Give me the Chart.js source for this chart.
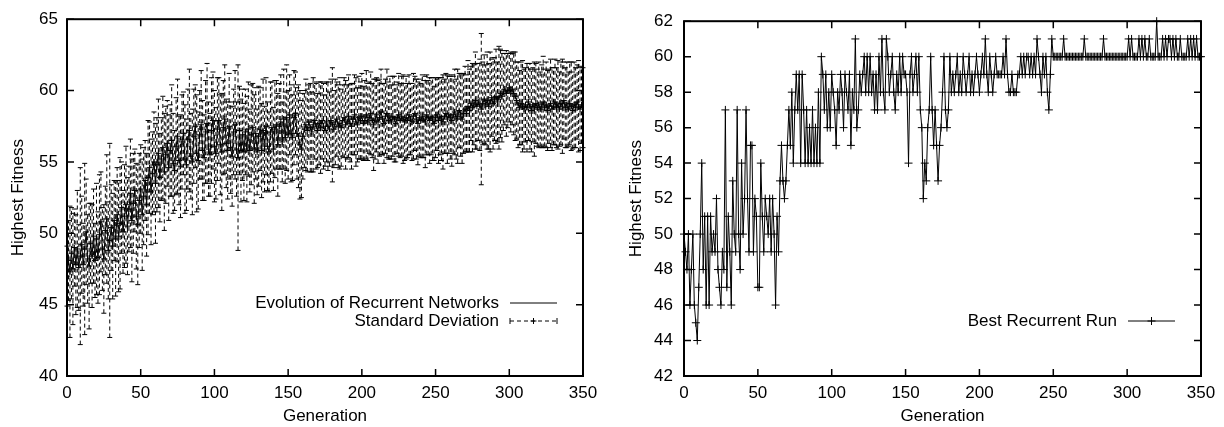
<!DOCTYPE html>
<html>
<head>
<meta charset="utf-8">
<script src="https://cdn.jsdelivr.net/npm/chart.js@4.4.0/dist/chart.umd.min.js"></script>
<style>
  html, body { margin: 0; padding: 0; background: #fff; }
  #wrap { display: flex; width: 1224px; height: 427px; }
  canvas { display: block; }
</style>
</head>
<body>
<div id="wrap">
  <canvas id="avgChart" width="612" height="427"></canvas>
  <canvas id="bestChart" width="612" height="427"></canvas>
</div>
<script>
const FONT = "'Liberation Sans', Arial, Helvetica, sans-serif";

// generation index 0..350 (x categories)
const generations = Array.from({ length: 351 }, (_, i) => i);

// left plot: average best fitness per generation over the recurrent runs
const meanFitness = [
  47.0,48.1,47.3,48.6,47.5,49.0,47.8,48.9,47.6,48.4,
  49.2,47.8,48.9,50.1,48.2,47.7,49.3,48.4,49.8,48.1,
  49.6,48.3,49.9,50.8,48.9,48.2,50.2,51.0,48.8,49.5,
  50.4,49.1,50.9,49.6,51.3,49.8,50.7,51.8,50.1,51.2,
  52.0,50.5,51.7,52.8,50.9,52.1,53.0,51.2,50.6,52.3,
  53.1,51.3,52.6,53.7,52.0,53.9,54.6,52.9,54.2,55.0,
  53.5,54.8,55.6,53.9,55.2,56.0,54.3,55.5,56.3,54.6,
  55.8,56.5,54.9,54.4,56.1,56.8,55.1,54.7,56.4,57.0,
  55.2,54.8,56.6,57.2,55.4,55.0,56.8,57.5,55.6,55.1,
  56.9,57.6,55.8,55.3,57.1,57.7,55.9,55.5,57.2,57.9,
  56.1,55.6,57.3,57.9,56.2,55.7,57.4,58.0,56.3,55.8,
  57.5,56.0,55.4,57.1,57.6,55.9,55.3,57.2,55.8,56.9,
  55.7,57.1,55.9,57.3,55.8,56.9,57.4,55.9,57.0,55.7,
  56.8,57.3,55.8,57.2,55.9,57.5,56.1,55.7,57.1,57.4,
  55.9,57.3,57.6,56.2,57.5,57.8,56.4,58.0,56.7,58.1,
  56.9,58.3,57.0,56.7,58.1,58.4,57.0,56.8,56.2,55.9,
  56.8,57.3,57.6,57.2,57.8,57.4,57.1,57.6,57.9,57.5,
  57.2,57.7,57.4,57.9,57.5,57.2,57.8,57.5,57.3,57.9,
  57.6,57.3,57.8,58.0,57.5,57.7,57.4,57.9,58.1,57.6,
  57.8,58.2,57.7,57.5,58.0,58.3,57.8,57.6,58.1,57.9,
  58.2,57.7,57.9,58.3,57.8,58.1,58.4,57.9,57.6,58.0,
  58.3,57.8,58.1,58.5,58.0,57.7,58.2,58.4,57.9,58.1,
  57.8,58.2,58.0,57.7,58.1,58.3,57.9,58.2,58.0,57.8,
  58.1,57.9,58.3,58.0,57.8,58.2,58.4,58.0,57.7,58.1,
  57.9,58.2,58.0,57.8,58.3,58.1,57.9,58.2,58.0,57.7,
  58.1,58.3,57.9,58.2,58.0,57.8,58.2,58.4,58.0,58.3,
  58.1,57.9,58.3,58.5,58.0,58.2,58.6,58.3,58.0,58.4,
  58.7,58.4,58.9,58.6,59.1,58.8,59.0,59.3,58.9,59.2,
  59.0,58.7,59.1,59.4,59.0,59.3,58.9,59.2,59.5,59.1,
  59.4,59.6,59.2,59.5,59.8,59.6,59.9,60.1,59.8,60.0,
  60.2,59.9,60.1,59.8,59.6,59.3,59.0,58.8,59.1,58.9,
  58.7,59.0,58.8,59.2,58.9,58.6,59.0,58.7,59.1,58.8,
  59.0,58.7,58.9,59.2,58.8,59.0,58.6,58.9,59.1,58.7,
  58.9,59.2,58.8,59.0,58.7,59.1,58.9,59.3,58.8,59.0,
  58.7,59.1,58.9,58.6,59.0,58.8,59.2,58.9,58.7,59.0,
  58.8
];

// standard deviation around the mean, same generations
const stdFitness = [
  2.1,2.8,4.6,3.2,3.9,2.7,3.5,4.1,3.0,6.2,
  3.4,2.9,6.0,3.7,3.1,4.4,2.8,3.6,3.3,2.6,
  3.9,3.2,4.2,3.5,2.9,3.8,3.1,4.5,3.4,6.8,
  3.0,3.7,2.8,4.0,3.3,3.9,4.6,3.2,2.9,3.6,
  4.1,3.4,3.0,3.8,4.3,3.5,2.9,3.7,4.2,3.3,
  3.1,3.9,3.4,2.8,3.6,4.0,3.2,3.7,2.9,3.5,
  4.2,3.3,3.8,3.1,2.9,3.6,4.1,3.4,3.0,3.7,
  3.2,3.9,3.5,2.8,3.4,4.0,3.1,3.6,3.3,2.9,
  3.8,3.2,3.5,4.3,3.0,3.7,3.3,2.9,4.1,3.4,
  3.1,3.8,3.5,3.0,3.6,4.2,3.3,2.9,3.7,3.4,
  3.9,3.2,3.6,3.0,3.5,4.1,3.3,3.8,3.1,3.4,
  3.7,3.2,3.5,3.0,3.8,3.3,6.5,3.1,3.6,3.2,
  3.4,3.0,3.7,3.3,2.9,3.5,3.1,3.8,3.2,3.0,
  3.5,2.9,3.3,3.6,3.0,3.4,3.1,2.8,3.5,3.2,
  2.9,3.4,3.1,3.6,3.0,3.3,2.8,3.5,3.2,3.7,
  3.1,2.8,3.4,3.0,3.3,2.9,3.2,3.6,3.8,3.4,
  3.0,2.7,3.2,2.9,2.6,3.1,2.8,3.3,2.7,3.0,
  2.6,2.9,3.2,2.7,3.0,2.5,2.8,3.1,2.6,2.9,
  4.0,2.7,3.0,2.6,2.9,3.2,2.7,2.5,2.8,3.1,
  2.6,2.9,2.7,3.0,2.5,2.8,3.1,2.6,2.9,2.7,
  3.0,2.6,2.8,3.1,2.7,2.5,2.9,2.6,3.2,2.8,
  2.6,2.9,2.7,3.0,2.5,2.8,2.6,3.1,2.7,2.9,
  2.6,2.8,3.0,2.7,2.5,2.9,2.6,2.8,3.1,2.7,
  2.9,2.6,2.8,2.5,2.7,3.0,2.6,2.8,2.9,2.7,
  2.6,2.9,2.7,3.2,2.8,2.6,3.0,2.7,2.9,2.6,
  2.8,2.5,3.0,2.7,2.9,3.3,2.6,2.8,3.1,2.7,
  2.9,3.2,2.7,3.0,2.8,3.3,2.6,2.9,3.1,2.8,
  3.0,2.7,3.2,2.9,2.6,3.1,2.8,3.4,3.0,2.7,
  3.2,5.3,2.9,3.1,2.8,3.4,3.0,3.5,2.7,3.2,
  2.9,3.3,2.8,3.6,3.1,3.2,2.7,2.5,3.0,2.6,
  2.4,2.8,2.5,2.9,3.1,2.7,3.0,2.6,2.9,3.2,
  2.8,2.6,3.1,2.7,3.0,2.9,2.6,3.3,2.8,2.7,
  3.0,2.6,2.9,3.2,2.7,3.0,2.8,2.6,3.1,2.9,
  2.7,3.0,2.8,3.1,2.6,2.9,3.3,2.7,2.8,3.0,
  2.6,2.9,3.1,2.7,3.0,2.8,2.6,3.2,2.9,2.7,
  2.8
];

// right plot: best single recurrent run
const bestRun = [
  50,49,48,50,46,48,50,46,45,44,
  47,50,54,48,51,46,51,46,51,49,
  50,49,52,48,47,46,49,48,57,47,
  51,49,46,53,50,49,57,50,48,54,
  50,52,57,52,49,55,55,49,52,51,
  47,47,54,51,49,52,51,50,52,49,
  52,50,46,51,49,53,55,53,52,53,
  55,57,55,58,54,57,59,57,59,54,
  59,57,54,57,54,56,54,57,54,56,
  54,58,54,60,59,57,59,56,58,56,
  59,58,57,55,58,57,59,58,56,59,
  58,57,59,55,58,57,61,56,57,59,
  58,59,60,58,60,58,60,58,59,57,
  59,57,60,58,61,58,57,61,60,58,
  59,60,58,57,59,58,60,58,60,59,
  59,58,54,59,60,58,59,60,58,60,
  57,56,52,54,53,56,57,60,57,55,
  57,55,53,55,56,58,60,57,56,57,
  60,58,59,58,59,60,58,59,58,60,
  59,58,59,60,58,59,58,59,60,59,
  58,59,60,59,61,59,58,60,59,58,
  59,60,59,59,59,59,60,59,61,59,
  58,58,59,58,58,58,59,59,60,59,
  60,59,60,60,59,60,59,60,59,61,
  60,59,58,60,59,60,58,57,59,61,
  60,60,60,60,60,60,60,61,60,60,
  60,60,60,60,60,60,60,60,60,60,
  60,61,60,60,60,60,60,60,60,60,
  60,60,60,60,61,60,60,60,60,60,
  60,60,60,60,60,60,60,60,60,60,
  60,61,60,61,60,60,60,60,61,60,
  61,60,61,60,60,61,60,60,60,60,
  62,60,60,60,61,60,61,60,61,61,
  60,61,60,61,60,60,61,60,60,60,
  60,61,60,61,60,61,60,61,60,60,
  60
];

// draws the gnuplot style box with inward ticks on all four sides
const framePlugin = {
  id: 'frame',
  afterDraw(chart) {
    const { ctx, chartArea: a, scales: { x, y } } = chart;
    const tl = 7;
    ctx.save();
    ctx.strokeStyle = '#000';
    ctx.lineWidth = 1.5;
    ctx.beginPath();
    x.ticks.forEach(t => {
      const px = x.getPixelForValue(t.value);
      ctx.moveTo(px, a.bottom); ctx.lineTo(px, a.bottom - tl);
      ctx.moveTo(px, a.top); ctx.lineTo(px, a.top + tl);
    });
    y.ticks.forEach(t => {
      const py = y.getPixelForValue(t.value);
      ctx.moveTo(a.left, py); ctx.lineTo(a.left + tl, py);
      ctx.moveTo(a.right, py); ctx.lineTo(a.right - tl, py);
    });
    ctx.stroke();
    ctx.lineWidth = 2;
    ctx.strokeRect(a.left, a.top, a.right - a.left, a.bottom - a.top);
    ctx.restore();
  }
};

// dashed y error bars with caps
const errorBarPlugin = {
  id: 'errorBars',
  afterDatasetsDraw(chart, args, opts) {
    if (!opts.spread) return;
    const { ctx, scales: { x, y } } = chart;
    const means = chart.data.datasets[opts.datasetIndex].data;
    ctx.save();
    ctx.strokeStyle = '#000';
    ctx.lineWidth = 1;
    ctx.setLineDash([4, 3]);
    ctx.beginPath();
    means.forEach((m, i) => {
      const px = x.getPixelForValue(generations[i]);
      ctx.moveTo(px, y.getPixelForValue(m - opts.spread[i]));
      ctx.lineTo(px, y.getPixelForValue(m + opts.spread[i]));
    });
    ctx.stroke();
    ctx.setLineDash([]);
    ctx.beginPath();
    means.forEach((m, i) => {
      const px = x.getPixelForValue(generations[i]);
      const top = y.getPixelForValue(m + opts.spread[i]);
      const bot = y.getPixelForValue(m - opts.spread[i]);
      ctx.moveTo(px - 2.5, top); ctx.lineTo(px + 2.5, top);
      ctx.moveTo(px - 2.5, bot); ctx.lineTo(px + 2.5, bot);
    });
    ctx.stroke();
    ctx.restore();
  }
};

// key in the lower right corner, text right aligned, sample to the right
const keyPlugin = {
  id: 'key',
  afterDraw(chart, args, opts) {
    const { ctx, chartArea: a } = chart;
    const sets = chart.data.datasets;
    ctx.save();
    ctx.font = `17px ${FONT}`;
    ctx.fillStyle = '#000';
    ctx.strokeStyle = '#000';
    ctx.lineWidth = 1;
    ctx.textAlign = 'right';
    ctx.textBaseline = 'middle';
    sets.forEach((ds, k) => {
      const yy = a.bottom - 55 - (sets.length - 1 - k) * 18;
      const x0 = a.right - 73, x1 = a.right - 26, xm = (x0 + x1) / 2;
      ctx.fillText(ds.label, a.right - 84, yy);
      const style = opts.styles[k];
      ctx.beginPath();
      if (style === 'errorbar') ctx.setLineDash([4, 3]);
      ctx.moveTo(x0, yy); ctx.lineTo(x1, yy);
      ctx.stroke();
      ctx.setLineDash([]);
      ctx.beginPath();
      if (style === 'errorbar') {
        ctx.moveTo(x0, yy - 3); ctx.lineTo(x0, yy + 3);
        ctx.moveTo(x1, yy - 3); ctx.lineTo(x1, yy + 3);
      }
      if (style !== 'line') {
        const r = style === 'errorbar' ? 3 : 4;
        ctx.moveTo(xm - r, yy); ctx.lineTo(xm + r, yy);
        ctx.moveTo(xm, yy - r); ctx.lineTo(xm, yy + r);
      }
      ctx.stroke();
    });
    ctx.restore();
  }
};

const tickFont = { family: FONT, size: 17 };

function axes(yMin, yMax, yStep, yWidth, yPad, titlePad) {
  return {
    x: {
      type: 'linear',
      min: 0,
      max: 350,
      ticks: { stepSize: 50, padding: 7, color: '#000', font: tickFont, maxRotation: 0, autoSkip: false },
      grid: { display: false, drawTicks: false },
      border: { display: false },
      title: { display: true, text: 'Generation', color: '#000', font: tickFont, padding: { top: 0, bottom: 0 } },
      afterFit(s) { s.height = 51; }
    },
    y: {
      min: yMin,
      max: yMax,
      ticks: { stepSize: yStep, padding: yPad, color: '#000', font: tickFont },
      grid: { display: false, drawTicks: false },
      border: { display: false },
      title: { display: true, text: 'Highest Fitness', color: '#000', font: tickFont, padding: { top: titlePad, bottom: 0 } },
      afterFit(s) { s.width = yWidth; }
    }
  };
}

new Chart(document.getElementById('avgChart'), {
  type: 'line',
  data: {
    labels: generations,
    datasets: [{
      label: 'Evolution of Recurrent Networks',
      data: meanFitness,
      borderColor: '#000',
      borderWidth: 1,
      pointRadius: 0,
      tension: 0
    }, {
      label: 'Standard Deviation',
      data: meanFitness,
      showLine: false,
      borderColor: '#000',
      pointStyle: 'cross',
      pointRadius: 3,
      pointBorderWidth: 1
    }]
  },
  options: {
    responsive: false,
    animation: false,
    devicePixelRatio: 1,
    layout: { padding: { top: 11, right: 29, left: 0, bottom: 0 } },
    scales: axes(40, 65, 5, 67, 9, 8),
    plugins: {
      legend: { display: false },
      tooltip: { enabled: false },
      errorBars: { datasetIndex: 1, spread: stdFitness },
      key: { styles: ['line', 'errorbar'] }
    }
  },
  plugins: [errorBarPlugin, framePlugin, keyPlugin]
});

new Chart(document.getElementById('bestChart'), {
  type: 'line',
  data: {
    labels: generations,
    datasets: [{
      label: 'Best Recurrent Run',
      data: bestRun,
      borderColor: '#000',
      borderWidth: 1,
      pointStyle: 'cross',
      pointRadius: 4,
      pointBorderWidth: 1,
      tension: 0,
      clip: false
    }]
  },
  options: {
    responsive: false,
    animation: false,
    devicePixelRatio: 1,
    layout: { padding: { top: 11, right: 23, left: 0, bottom: 0 } },
    scales: axes(42, 62, 2, 72, 11, 14),
    plugins: {
      legend: { display: false },
      tooltip: { enabled: false },
      key: { styles: ['linepoint'] }
    }
  },
  plugins: [framePlugin, keyPlugin]
});
</script>
</body>
</html>
